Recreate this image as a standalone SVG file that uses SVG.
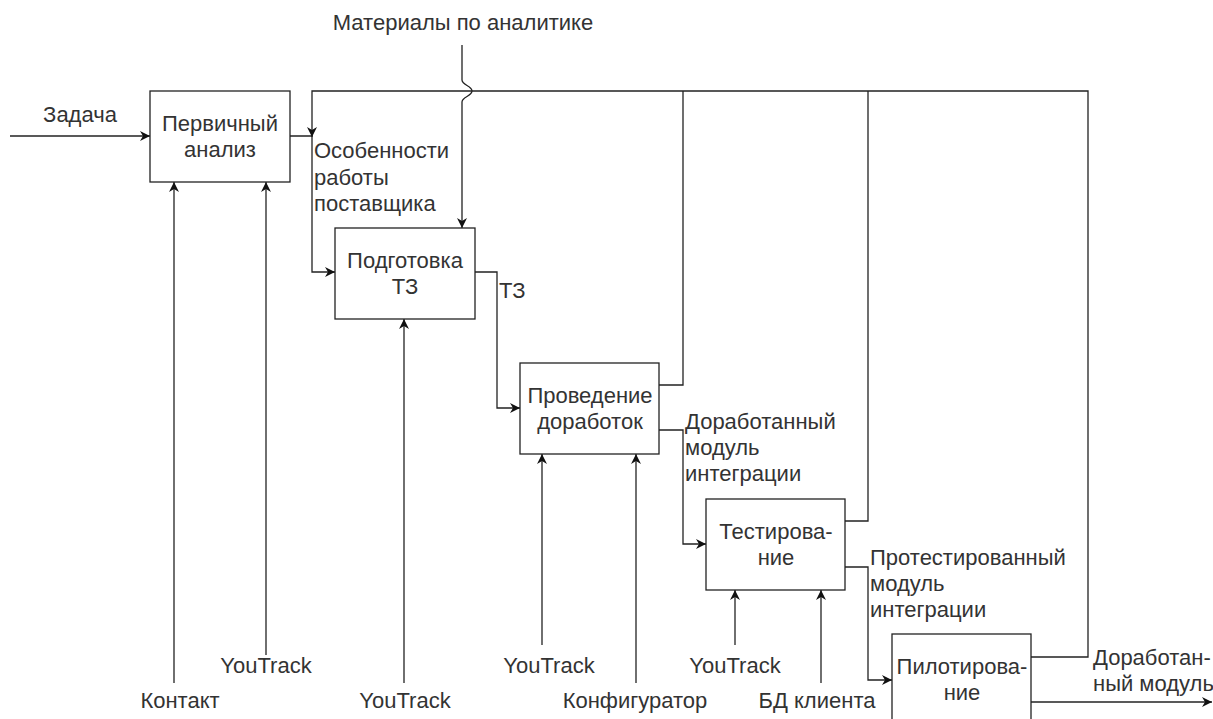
<svg xmlns="http://www.w3.org/2000/svg" width="1213" height="719" viewBox="0 0 1213 719">
<defs>
<marker id="arr" viewBox="0 0 10 10" refX="10" refY="5" markerWidth="10" markerHeight="10" markerUnits="userSpaceOnUse" orient="auto">
<path d="M0,0 L10,5 L0,10 L3,5 Z" fill="#111"/>
</marker>
<style>
.box{fill:#fff;stroke:#222;stroke-width:1.3}
.ln{fill:none;stroke:#222;stroke-width:1.3}
.ar{fill:none;stroke:#222;stroke-width:1.3;marker-end:url(#arr)}
text{font-family:"Liberation Sans",Arial,sans-serif;font-size:22px;fill:#333}
.c{text-anchor:middle}
</style>
</defs>
<rect width="1213" height="719" fill="#fff"/>
<g id="connectors">
<path class="ar" d="M10,136 L150,136"/>
<path class="ar" d="M290,136 L312,136 L312,272 L335,272"/>
<path class="ar" d="M1031,657 L1088,657 L1088,91 L312,91 L312,137"/>
<path class="ln" d="M659,385 L683,385 L683,91"/>
<path class="ln" d="M845,521 L868,521 L868,91"/>
<path class="ar" d="M474,272 L497,272 L497,408 L520,408"/>
<path class="ar" d="M659,430 L683,430 L683,544 L706,544"/>
<path class="ar" d="M845,567 L868,567 L868,680 L892,680"/>
<path class="ar" d="M1031,702 L1212,702"/>
<path class="ar" d="M462,45 L462,80 C462,85 472,86 472,91 C472,96 462,97 462,102 L462,228"/>
<path class="ar" d="M174,683 L174,182"/>
<path class="ar" d="M266,655 L266,182"/>
<path class="ar" d="M404,683 L404,319"/>
<path class="ar" d="M542,645 L542,454"/>
<path class="ar" d="M636,683 L636,454"/>
<path class="ar" d="M735,645 L735,590"/>
<path class="ar" d="M821,683 L821,590"/>
</g>
<g id="labels">
<text class="c" x="463" y="30">Материалы по аналитике</text>
<text class="c" x="80" y="122">Задача</text>
<text x="314" y="158">Особенности</text>
<text x="314" y="185">работы</text>
<text x="314" y="211">поставщика</text>
<text x="499" y="298">ТЗ</text>
<text x="685" y="429">Доработанный</text>
<text x="685" y="455">модуль</text>
<text x="685" y="481">интеграции</text>
<text x="870" y="565">Протестированный</text>
<text x="870" y="591">модуль</text>
<text x="870" y="617">интеграции</text>
<text x="1093" y="665">Доработан-</text>
<text x="1093" y="691">ный модуль</text>
<text class="c" x="180" y="708">Контакт</text>
<text class="c" x="266" y="673">YouTrack</text>
<text class="c" x="405" y="708">YouTrack</text>
<text class="c" x="549" y="673">YouTrack</text>
<text class="c" x="635" y="708">Конфигуратор</text>
<text class="c" x="735" y="673">YouTrack</text>
<text class="c" x="817" y="708">БД клиента</text>
</g>
<g id="n1"><rect class="box" x="150" y="91" width="140" height="91"/><text class="c" x="220" y="131">Первичный</text><text class="c" x="220" y="157">анализ</text></g>
<g id="n2"><rect class="box" x="335" y="228" width="140" height="91"/><text class="c" x="405" y="268">Подготовка</text><text class="c" x="405" y="294">ТЗ</text></g>
<g id="n3"><rect class="box" x="520" y="363" width="139" height="91"/><text class="c" x="590" y="403">Проведение</text><text class="c" x="590" y="429">доработок</text></g>
<g id="n4"><rect class="box" x="706" y="499" width="139" height="91"/><text class="c" x="776" y="539">Тестирова-</text><text class="c" x="776" y="565">ние</text></g>
<g id="n5"><rect class="box" x="892" y="634" width="139" height="91"/><text class="c" x="962" y="674">Пилотирова-</text><text class="c" x="962" y="700">ние</text></g>
</svg>
